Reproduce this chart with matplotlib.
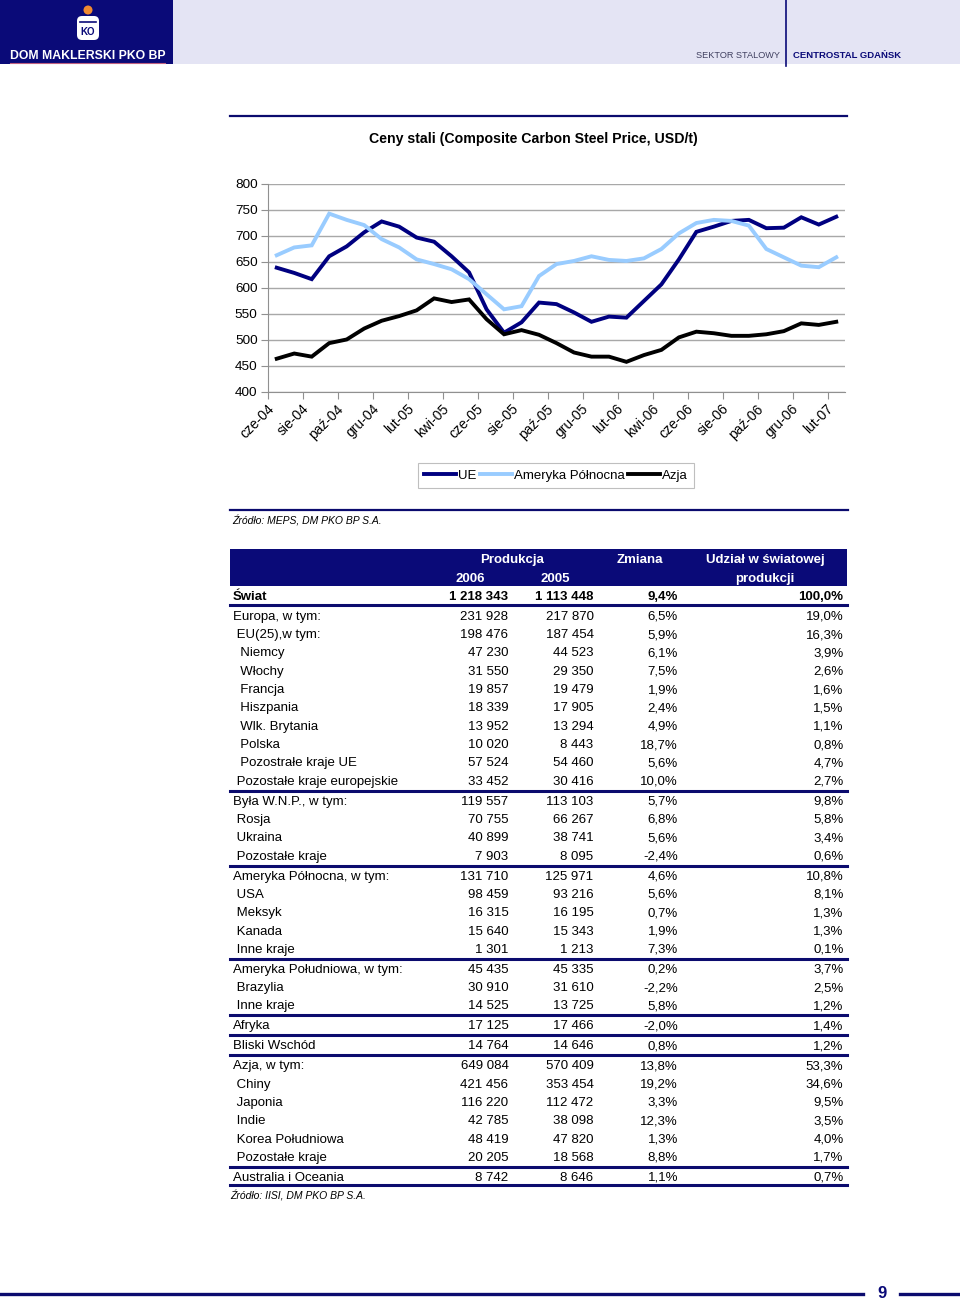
import matplotlib
matplotlib.use('Agg')
import matplotlib.pyplot as plt
from matplotlib.patches import Rectangle, Circle, FancyBboxPatch
from matplotlib.transforms import ScaledTranslation

plt.rcParams['font.family'] = ['Liberation Sans', 'DejaVu Sans']

# ---------------- data ----------------
months = ['cze-04', 'lip-04', 'sie-04', 'wrz-04', 'paź-04', 'lis-04', 'gru-04',
          'sty-05', 'lut-05', 'mar-05', 'kwi-05', 'maj-05', 'cze-05', 'lip-05',
          'sie-05', 'wrz-05', 'paź-05', 'lis-05', 'gru-05', 'sty-06', 'lut-06',
          'mar-06', 'kwi-06', 'maj-06', 'cze-06', 'lip-06', 'sie-06', 'wrz-06',
          'paź-06', 'lis-06', 'gru-06', 'sty-07', 'lut-07']
ue = [639, 629, 617, 661, 680, 707, 728, 718, 697, 689, 661, 630, 559, 514, 534,
      572, 569, 553, 535, 545, 543, 575, 607, 655, 708, 718, 729, 731, 715, 716,
      736, 722, 737]
ameryka_pn = [663, 678, 682, 743, 731, 721, 694, 678, 655, 646, 636, 617, 588, 559,
              565, 623, 646, 652, 661, 654, 652, 657, 675, 705, 725, 731, 729, 720,
              675, 659, 643, 640, 659]
azja = [464, 474, 468, 494, 501, 522, 537, 546, 557, 580, 573, 578, 540, 511, 519,
        510, 494, 476, 468, 468, 458, 471, 481, 505, 516, 513, 508, 508, 511, 517,
        532, 529, 535]
series_names = ['UE', 'Ameryka Północna', 'Azja']
y_ticks = [400, 450, 500, 550, 600, 650, 700, 750, 800]

world_label = 'Świat'
world_values = (1218343, 1113448, 9.4, 100.0)
regions = ['Europa, w tym:', ' EU(25),w tym:', '  Niemcy', '  Włochy', '  Francja',
           '  Hiszpania', '  Wlk. Brytania', '  Polska', '  Pozostrałe kraje UE',
           ' Pozostałe kraje europejskie', 'Była W.N.P., w tym:', ' Rosja',
           ' Ukraina', ' Pozostałe kraje', 'Ameryka Północna, w tym:', ' USA',
           ' Meksyk', ' Kanada', ' Inne kraje', 'Ameryka Południowa, w tym:',
           ' Brazylia', ' Inne kraje', 'Afryka', 'Bliski Wschód', 'Azja, w tym:',
           ' Chiny', ' Japonia', ' Indie', ' Korea Południowa', ' Pozostałe kraje',
           'Australia i Oceania']
prod_2006 = [231928, 198476, 47230, 31550, 19857, 18339, 13952, 10020, 57524, 33452,
             119557, 70755, 40899, 7903, 131710, 98459, 16315, 15640, 1301, 45435,
             30910, 14525, 17125, 14764, 649084, 421456, 116220, 42785, 48419,
             20205, 8742]
prod_2005 = [217870, 187454, 44523, 29350, 19479, 17905, 13294, 8443, 54460, 30416,
             113103, 66267, 38741, 8095, 125971, 93216, 16195, 15343, 1213, 45335,
             31610, 13725, 17466, 14646, 570409, 353454, 112472, 38098, 47820,
             18568, 8646]
change = [6.5, 5.9, 6.1, 7.5, 1.9, 2.4, 4.9, 18.7, 5.6, 10.0, 5.7, 6.8, 5.6, -2.4,
          4.6, 5.6, 0.7, 1.9, 7.3, 0.2, -2.2, 5.8, -2.0, 0.8, 13.8, 19.2, 3.3, 12.3,
          1.3, 8.8, 1.1]
share = [19.0, 16.3, 3.9, 2.6, 1.6, 1.5, 1.1, 0.8, 4.7, 2.7, 9.8, 5.8, 3.4, 0.6,
         10.8, 8.1, 1.3, 1.3, 0.1, 3.7, 2.5, 1.2, 1.4, 1.2, 53.3, 34.6, 9.5, 3.5,
         4.0, 1.7, 0.7]


def fmt_int(n):
    return f"{n:,}".replace(',', ' ')


def fmt_pct(v):
    return f"{v:.1f}%".replace('.', ',')


NAVY = '#0a0a78'
LINE_NAVY = '#0b0b6e'
W, H = 960, 1302
fig = plt.figure(figsize=(W / 100, H / 100), dpi=100)

# background / decoration axes in pixel coords
bg = fig.add_axes([0, 0, 1, 1], zorder=0)
bg.set_xlim(0, W)
bg.set_ylim(H, 0)
bg.axis('off')

# header
bg.add_patch(Rectangle((173, 0), W - 173, 64, color='#e4e4f4', lw=0))
bg.add_patch(Rectangle((0, 0), 173, 64, color=NAVY, lw=0))
bg.plot([786, 786], [0, 66], color=NAVY, lw=1.2)
bg.add_patch(Circle((88, 10), 4.5, color='#f08a30', lw=0))
bg.add_patch(FancyBboxPatch((77, 16), 22, 24, boxstyle='round,pad=0,rounding_size=5',
                            color='white', lw=0))
bg.plot([80, 96], [22, 22], color=NAVY, lw=1.2)
bg.text(88, 32, 'KO', color=NAVY, fontsize=7, fontweight='bold', ha='center', va='center')
bg.text(87.5, 56, 'DOM MAKLERSKI PKO BP', color='white', fontsize=8.8, fontweight='bold',
        ha='center', va='center')
bg.plot([10, 165], [62.5, 62.5], color='#c06080', lw=0.8)
bg.text(780, 55, 'SEKTOR STALOWY', color='#404060', fontsize=6.6, ha='right', va='center')
bg.text(793, 55, 'CENTROSTAL GDAŃSK', color=NAVY, fontsize=6.8, fontweight='bold',
        ha='left', va='center')

# chart frame lines
bg.plot([230, 847], [115.5, 115.5], color=LINE_NAVY, lw=1.6)
bg.plot([230, 848], [510, 510], color=LINE_NAVY, lw=1.6)
bg.text(533, 139, 'Ceny stali (Composite Carbon Steel Price, USD/t)', fontsize=10.2,
        fontweight='bold', ha='center', va='center')
bg.text(232, 521, 'Źródło: MEPS, DM PKO BP S.A.', fontsize=7.5, style='italic',
        ha='left', va='center')

# ---------------- line chart ----------------
ax_l, ax_r, ax_t, ax_b = 268, 845, 184, 392
ax = fig.add_axes([ax_l / W, 1 - ax_b / H, (ax_r - ax_l) / W, (ax_b - ax_t) / H], zorder=2)
ax.patch.set_alpha(0)
x = list(range(len(months)))
colors = ['#000080', '#99ccff', '#000000']
for vals, name, c in zip([ue, ameryka_pn, azja], series_names, colors):
    ax.plot(x, vals, color=c, lw=2.8, label=name, solid_joinstyle='miter')
ax.set_xlim(-0.5, len(months) - 0.5)
ax.set_ylim(y_ticks[0], y_ticks[-1])
ax.set_yticks(y_ticks)
ax.tick_params(axis='y', labelsize=9.7, length=5, color='#909090', pad=2.5)
ax.grid(axis='y', color='#a8a8a8', lw=1)
ax.set_axisbelow(True)
for s in ['top', 'right']:
    ax.spines[s].set_visible(False)
for s in ['left', 'bottom']:
    ax.spines[s].set_color('#909090')
# ticks at category boundaries, labels on every second category
ax.set_xticks([i - 0.5 for i in range(0, len(months) + 1, 2)])
ax.set_xticklabels([])
ax.tick_params(axis='x', which='major', length=5, color='#909090')
ax.set_xticks(x[::2], minor=True)
ax.set_xticklabels(months[::2], minor=True, rotation=45, ha='right', va='top',
                   rotation_mode='anchor', fontsize=10)
ax.tick_params(axis='x', which='minor', length=0, pad=7)
for lab in ax.xaxis.get_minorticklabels():
    lab.set_transform(lab.get_transform() + ScaledTranslation(-0.1, 0, fig.dpi_scale_trans))

leg = ax.legend(loc='center', bbox_to_anchor=((420 + 692) / 2 / W, 1 - 475.5 / H),
                bbox_transform=fig.transFigure, ncol=3, fontsize=9.5, frameon=True,
                fancybox=False, edgecolor='#b0b0b0', handlelength=2.4,
                handletextpad=0.15, columnspacing=0.3, borderpad=0.45)
leg.get_frame().set_linewidth(0.8)

# ---------------- table ----------------
tl, tr = 230, 847
bg.add_patch(Rectangle((tl, 549), tr - tl, 37, color=NAVY, lw=0))
BL = 4.7  # baseline offset from row centre
hdr = dict(color='white', fontsize=9.5, fontweight='bold', va='baseline', ha='center')
bg.text(512, 558 + BL, 'Produkcja', **hdr)
bg.text(640, 558 + BL, 'Zmiana', **hdr)
bg.text(765, 558 + BL, 'Udział w światowej', **hdr)
bg.text(470, 577 + BL, '2006', **hdr)
bg.text(555, 577 + BL, '2005', **hdr)
bg.text(765, 577 + BL, 'produkcji', **hdr)

col_x = [508.5, 593.5, 678, 843.5]
fs = 9.5
bg.text(233, 595 + BL, world_label, fontsize=fs, fontweight='bold', va='baseline')
for cx, v in zip(col_x, [fmt_int(world_values[0]), fmt_int(world_values[1]),
                         fmt_pct(world_values[2]), fmt_pct(world_values[3])]):
    bg.text(cx, 595 + BL, v, fontsize=fs, fontweight='bold', va='baseline', ha='right')
bg.plot([tl, tr], [604.5, 604.5], color=LINE_NAVY, lw=2.2)

pitch, sep_extra = 18.33, 1.6
nsep = 0
y = None
for i, name in enumerate(regions):
    if i > 0 and not name.startswith(' '):
        nsep += 1
        yline = 615 + pitch * i + sep_extra * nsep - 9.3
        bg.plot([tl, tr], [yline, yline], color=LINE_NAVY, lw=2.2)
    y = 615 + pitch * i + sep_extra * nsep
    bg.text(233, y + BL, name, fontsize=fs, va='baseline', ha='left')
    vals = [fmt_int(prod_2006[i]), fmt_int(prod_2005[i]), fmt_pct(change[i]), fmt_pct(share[i])]
    for cx, v in zip(col_x, vals):
        bg.text(cx, y + BL, v, fontsize=fs, va='baseline', ha='right')
bg.plot([tl, tr], [y + 8.8, y + 8.8], color=LINE_NAVY, lw=2.2)
bg.text(230, y + 19.5, 'Źródło: IISI, DM PKO BP S.A.', fontsize=7.5, style='italic',
        ha='left', va='center')

# footer
bg.plot([0, 863], [1294, 1294], color=LINE_NAVY, lw=2.4)
bg.plot([900, 960], [1294, 1294], color=LINE_NAVY, lw=2.4)
bg.text(882, 1294, '9', color=NAVY, fontsize=12, fontweight='bold', ha='center', va='center')

fig.savefig('out.png', dpi=100)
